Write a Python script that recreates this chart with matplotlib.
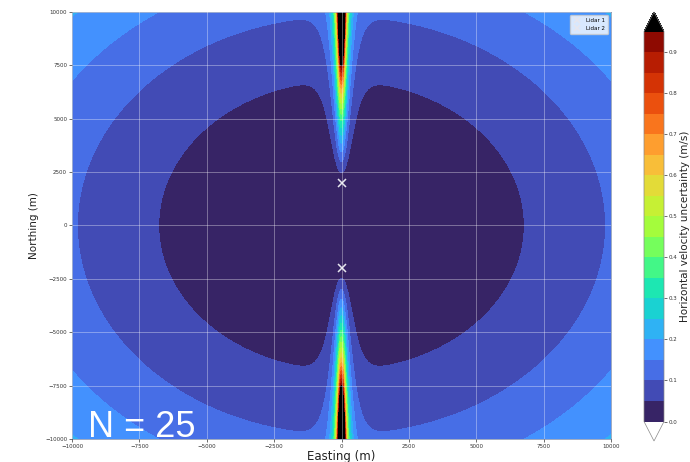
import numpy as np
import matplotlib
matplotlib.use("Agg")
import matplotlib.pyplot as plt

# ---- data ----
lidar_names = ["Lidar 1", "Lidar 2"]
lidar_x = [0.0, 0.0]
lidar_y = [2000.0, -2000.0]
noise_var = 0.008          # radial noise variance scaling (m/s)^2
spike_amp = 25000.0        # amplitude of along-baseline singular band at domain edge
spike_w0, spike_w1 = 200.0, 110.0   # band core half-width near lidar / at domain edge
spike_tail = 900.0         # lateral damping length of band
domain = [-10000.0, 10000.0]
levels = np.round(np.arange(0.0, 1.0, 0.05), 2)
cbar_ticks = np.round(np.arange(0.0, 1.0, 0.1), 1)
xticks = [-10000, -7500, -5000, -2500, 0, 2500, 5000, 7500, 10000]
yticks = [-10000, -7500, -5000, -2500, 0, 2500, 5000, 7500, 10000]
annot = "N = 25"

# ---- field: dual-Doppler horizontal velocity uncertainty ----
g = np.linspace(domain[0], domain[1], 1000)
X, Y = np.meshgrid(g, g)
dx1, dy1 = X - lidar_x[0], Y - lidar_y[0]
dx2, dy2 = X - lidar_x[1], Y - lidar_y[1]
r1 = np.hypot(dx1, dy1); r2 = np.hypot(dx2, dy2)
n1x, n1y = dx1 / r1, dy1 / r1
n2x, n2y = dx2 / r2, dy2 / r2
det = n1x * n2y - n1y * n2x
Cvv = (n1x**2 + n2x**2) / det**2
base = noise_var * Cvv
span = domain[1] - lidar_y[0]
yb = np.clip(np.abs(Y) - lidar_y[0], 0, None)
A = spike_amp * yb / span
w = spike_w0 - (spike_w0 - spike_w1) * yb / span
spike = A / (X**2 + w**2) * np.exp(-(X / spike_tail) ** 2)
Z = base + spike

# ---- figure ----
fig = plt.figure(figsize=(6.9, 4.62), dpi=100)
ax = fig.add_axes([72/690, 1-439/462, (611-72)/690, (439-12)/462])
cax = fig.add_axes([644/690, 1-441/462, 20/690, (441-12)/462])

cmap = plt.get_cmap("turbo").copy()
cmap.set_under("white")
cmap.set_over("black")
cf = ax.contourf(X, Y, Z, levels=levels, cmap=cmap, extend="both")

ax.set_xlim(domain); ax.set_ylim(domain)
ax.set_xticks(xticks); ax.set_yticks(yticks)
ax.tick_params(labelsize=4, length=2, width=0.5, pad=1.5, colors="#333333")
ax.grid(True, color="white", alpha=0.35, lw=0.7)
ax.set_axisbelow(False)
for s in ax.spines.values():
    s.set_linewidth(0.5); s.set_color("#7788aa")

for name, lx, ly in zip(lidar_names, lidar_x, lidar_y):
    ax.plot(lx, ly, "x", color="#e6e6ee", ms=6, mew=1.1, label=name)
leg = ax.legend(loc="upper right", fontsize=4, framealpha=0.8, borderpad=0.6,
                handlelength=1.5, labelspacing=0.5, markerscale=0.8)

ax.set_xlabel("Easting (m)", fontsize=8.5, labelpad=0.5, color="#222222")
ax.set_ylabel("Northing (m)", fontsize=7.5, labelpad=4, color="#222222")

cb = fig.colorbar(cf, cax=cax, ticks=cbar_ticks)
cb.ax.tick_params(labelsize=4, length=2, width=0.5, pad=1.5, colors="#333333")
cb.ax.set_yticklabels([f"{t:.1f}" for t in cbar_ticks])
cb.outline.set_linewidth(0.5); cb.outline.set_edgecolor("#888888")
cb.set_label("Horizontal velocity uncertainty (m/s)", fontsize=7.5, labelpad=1.5, color="#222222")

fig.text(88/690, 1-437/462, annot, fontsize=26, color="white",
         family=["Liberation Sans", "DejaVu Sans"], va="baseline", ha="left")

fig.savefig("out.png", dpi=100)
